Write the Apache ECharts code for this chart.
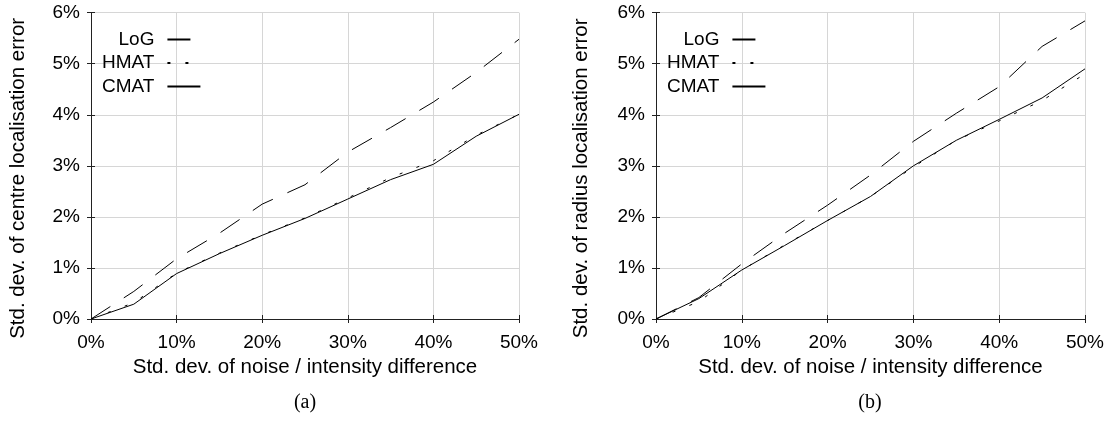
<!DOCTYPE html>
<html>
<head>
<meta charset="utf-8">
<script src="https://cdn.jsdelivr.net/npm/echarts@6/dist/echarts.min.js"></script>
<style>
    html, body { margin: 0; padding: 0; background: #fff; }
    .wrap { width: 1112px; height: 425px; display: flex; }
    .chart { width: 556px; height: 425px; }
</style>
</head>
<body>
<div class="wrap">
    <div id="chartA" class="chart"></div>
    <div id="chartB" class="chart"></div>
</div>
<script>
    // noise level (% of intensity difference)
    const noise = [0, 5, 10, 15, 20, 25, 30, 35, 40, 45, 50]
    const xTicks = [0, 10, 20, 30, 40, 50]
    const yTicks = [0, 1, 2, 3, 4, 5, 6]

    // (a) centre localisation error, %
    const centreLoG = [0, 0.54, 1.18, 1.68, 2.25, 2.63, 3.27, 3.75, 4.25, 4.83, 5.48]
    const centreHMAT = [0, 0.32, 0.90, 1.29, 1.65, 1.98, 2.37, 2.77, 3.10, 3.60, 4.01]
    const centreCMAT = [0, 0.29, 0.89, 1.28, 1.64, 1.97, 2.35, 2.73, 3.03, 3.58, 4.01]

    // (b) radius localisation error, %
    const radiusLoG = [0, 0.42, 1.08, 1.68, 2.23, 2.82, 3.48, 4.03, 4.55, 5.34, 5.84]
    const radiusHMAT = [0, 0.34, 0.96, 1.45, 1.93, 2.40, 2.98, 3.50, 3.88, 4.28, 4.80]
    const radiusCMAT = [0, 0.40, 0.96, 1.44, 1.93, 2.40, 3.00, 3.50, 3.91, 4.33, 4.90]

    const FONT = "'Liberation Sans', Arial, sans-serif"
    const INK = '#000'

    function pairs(ys) {
        return noise.map((x, i) => [x, ys[i]])
    }

    function makeOption(cfg) {
        const axisBase = {
            type: 'value',
            axisLine: { show: true, lineStyle: { color: '#222', width: 1 } },
            axisTick: { show: true, inside: true, length: 4, lineStyle: { color: '#222' } },
        }
        const xBase = Object.assign({}, axisBase, { min: xTicks[0], max: xTicks[xTicks.length - 1], interval: 10 })
        const yBase = Object.assign({}, axisBase, { min: yTicks[0], max: yTicks[yTicks.length - 1], interval: 1 })
        const line = (name, ys, type) => ({
            name: name,
            type: 'line',
            data: pairs(ys),
            symbol: 'none',
            lineStyle: { color: INK, width: 1, type: type },
            itemStyle: { color: INK },
            emphasis: { disabled: true },
        })
        return {
            animation: false,
            textStyle: { fontFamily: FONT },
            grid: { left: cfg.left, top: 12.7, width: 429, height: 306.3 },
            legend: {
                orient: 'vertical',
                align: 'right',
                left: cfg.legendLeft,
                top: 30,
                padding: 0,
                itemWidth: 33,
                itemHeight: 14,
                itemGap: 4.5,
                selectedMode: false,
                // hide the circle marker, keep the dashed sample line
                itemStyle: { opacity: 0 },
                textStyle: { fontSize: 19, color: INK, fontFamily: FONT, lineHeight: 19, padding: [0, 8, 0, 0] },
                data: ['LoG', 'HMAT', 'CMAT'],
            },
            xAxis: [
                Object.assign({}, xBase, {
                    position: 'bottom',
                    splitLine: { show: true, lineStyle: { color: '#d6d6d6', width: 1 } },
                    axisLabel: { formatter: '{value}%', fontSize: 19, color: INK, margin: 14, fontFamily: FONT },
                    name: 'Std. dev. of noise / intensity difference',
                    nameLocation: 'middle',
                    nameGap: 38,
                    nameTextStyle: { fontSize: 20.5, color: INK, fontFamily: FONT },
                }),
                Object.assign({}, xBase, { position: 'top', axisLabel: { show: false }, splitLine: { show: false } }),
            ],
            yAxis: [
                Object.assign({}, yBase, {
                    position: 'left',
                    splitLine: { show: true, lineStyle: { color: '#d6d6d6', width: 1 } },
                    axisLabel: { formatter: '{value}%', fontSize: 19, color: INK, margin: 11, fontFamily: FONT },
                    name: cfg.yName,
                    nameLocation: 'middle',
                    nameGap: cfg.yNameGap,
                    nameTextStyle: { fontSize: 20.5, color: INK, fontFamily: FONT, padding: [0, 25, 0, 0] },
                }),
                Object.assign({}, yBase, { position: 'right', axisLabel: { show: false }, splitLine: { show: false } }),
            ],
            graphic: [{
                type: 'text',
                x: cfg.capX,
                y: 403,
                style: { text: cfg.caption, font: "20px 'Liberation Serif', 'Times New Roman', serif", fill: INK, align: 'center', verticalAlign: 'middle' },
            }],
            series: [
                line('LoG', cfg.log, [23, 16]),
                line('HMAT', cfg.hmat, [3, 15]),
                line('CMAT', cfg.cmat, 'solid'),
            ],
        }
    }

    const chartA = echarts.init(document.getElementById('chartA'))
    chartA.setOption(makeOption({
        left: 90, legendLeft: 102, yNameGap: 62, capX: 305, caption: '(a)',
        yName: 'Std. dev. of centre localisation error',
        log: centreLoG, hmat: centreHMAT, cmat: centreCMAT,
    }))

    const chartB = echarts.init(document.getElementById('chartB'))
    chartB.setOption(makeOption({
        left: 100, legendLeft: 111, yNameGap: 64, capX: 314, caption: '(b)',
        yName: 'Std. dev. of radius localisation error',
        log: radiusLoG, hmat: radiusHMAT, cmat: radiusCMAT,
    }))
</script>
</body>
</html>
